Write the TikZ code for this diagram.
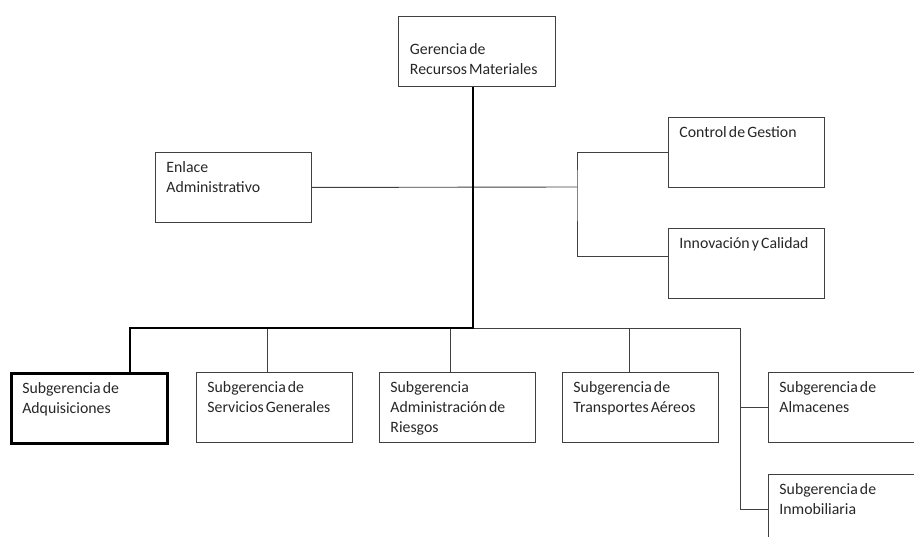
\documentclass[tikz,border=0pt]{standalone}
\usepackage{fontspec}
\setmainfont{Carlito}[WordSpace=0.6]
\usetikzlibrary{positioning}
\tikzstyle{unidad} = [rectangle, anchor=north west, minimum width=156pt, minimum height=70pt, inner xsep=11pt, inner ysep=6pt, draw=black!75, line width=0.9pt, text=black!85, font=\fontsize{15.8}{20}\selectfont]
\tikzstyle{fino} = [draw=black!75, line width=0.9pt]
\tikzstyle{grueso} = [draw=black, line width=2.6pt]
\newcommand{\cajatexto}[2][14pt]{\parbox[c][58pt][t]{134pt}{\rule{0pt}{#1}#2\strut}}

\begin{document}
\begin{tikzpicture}[x=1pt, y=-1pt]
\useasboundingbox (0,0) rectangle (914,537);
% cabeza
\node (gerencia) [unidad, minimum width=157pt] at (398,16) {\cajatexto[32pt]{Gerencia de\\Recursos Materiales}};
% staff
\node (enlace) [unidad] at (155,152) {\cajatexto{Enlace\\Administrativo}};
\node (control) [unidad] at (668,117) {\cajatexto{Control de Gestion}};
\node (innovacion) [unidad] at (668,228) {\cajatexto{Innovación y Calidad}};
% subgerencias
\node (adquisiciones) [unidad, minimum width=155pt, line width=2.6pt, draw=black] at (10,372) {\cajatexto{Subgerencia de\\Adquisiciones}};
\node (servicios) [unidad] at (196,372) {\cajatexto{Subgerencia de\\Servicios Generales}};
\node (riesgos) [unidad, minimum width=155pt] at (379,372) {\cajatexto{Subgerencia\\Administración de\\Riesgos}};
\node (transportes) [unidad] at (562,372) {\cajatexto{Subgerencia de\\Transportes Aéreos}};
\node (almacenes) [unidad] at (768,372) {\cajatexto{Subgerencia de\\Almacenes}};
\node (inmobiliaria) [unidad] at (768,474) {\cajatexto{Subgerencia de\\Inmobiliaria}};

\coordinate (bus) at (473,328);
\coordinate (ramal) at (740,328);
\coordinate (staff) at (577,187);
\coordinate (staffB) at (577,256);

% lineas finas
\draw [fino] (enlace.east) -- (staff);
\draw [fino] (control.west) -| (staff) |- (staffB);
\draw [fino] (staffB) -- (staffB -| innovacion.west);
\draw [fino] (bus) -- (ramal);
\draw [fino] ([xshift=-7pt]servicios.north) |- (bus);
\draw [fino] ([xshift=-7pt]riesgos.north) |- (bus);
\draw [fino] ([xshift=-11pt]transportes.north) |- (bus);
\draw [fino] (ramal) |- (almacenes.west);
\draw [fino] (ramal) |- (inmobiliaria.west);
% linea de mando
\draw [grueso] (gerencia.south -| bus) -- (bus) -| ([xshift=40.5pt]adquisiciones.north);
\end{tikzpicture}
\end{document}
